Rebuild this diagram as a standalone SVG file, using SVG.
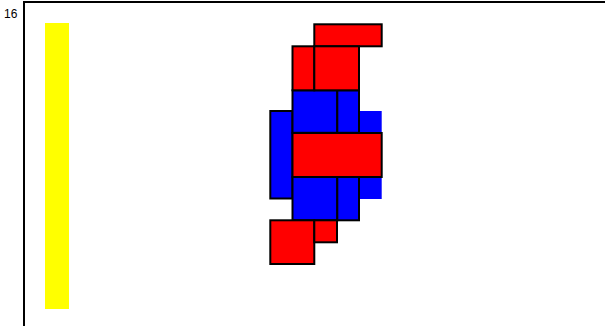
<svg xmlns="http://www.w3.org/2000/svg" width="605" height="326" viewBox="0 0 605 326">
<style>
.r{fill:#ff0000;stroke:#000;stroke-width:2}
.b{fill:#0000ff;stroke:#000;stroke-width:2}
.bn{fill:#0000ff;stroke:none}
.t{font-family:"Liberation Sans",Arial,sans-serif;font-size:12px;fill:#000}
</style>
<rect width="605" height="326" fill="#fff"/>
<text class="t" x="4" y="18">16</text>
<g id="frame" fill="none" stroke="#000" stroke-width="2">
<path d="M24,326 V2 H605"/>
</g>
<g id="yellow-bar"><rect x="45" y="23" width="24" height="286" fill="#ffff00"/></g>
<g id="blocks">
<rect id="n1" class="bn" x="359" y="111" width="22.7" height="22"/>
<rect id="n2" class="bn" x="359" y="177" width="22.7" height="22"/>
<rect id="n3" class="b" x="270.3" y="111" width="22.2" height="87.5"/>
<rect id="n4" class="b" x="292.5" y="90.3" width="44.8" height="42.5"/>
<rect id="n5" class="b" x="337.3" y="90.3" width="21.7" height="42.5"/>
<rect id="n6" class="b" x="292.5" y="177" width="44.8" height="43.3"/>
<rect id="n7" class="b" x="337.3" y="177" width="21.7" height="43.3"/>
<rect id="n8" class="r" x="314.3" y="24.3" width="67.4" height="22"/>
<rect id="n9" class="r" x="292.5" y="46.3" width="21.8" height="44"/>
<rect id="n10" class="r" x="314.3" y="46.3" width="44.7" height="44"/>
<rect id="n11" class="r" x="292.5" y="133" width="89.2" height="44"/>
<rect id="n12" class="r" x="270.3" y="220.3" width="44" height="43.7"/>
<rect id="n13" class="r" x="314.3" y="220.3" width="22.7" height="22"/>
</g>
<g id="connectors"/>
</svg>
